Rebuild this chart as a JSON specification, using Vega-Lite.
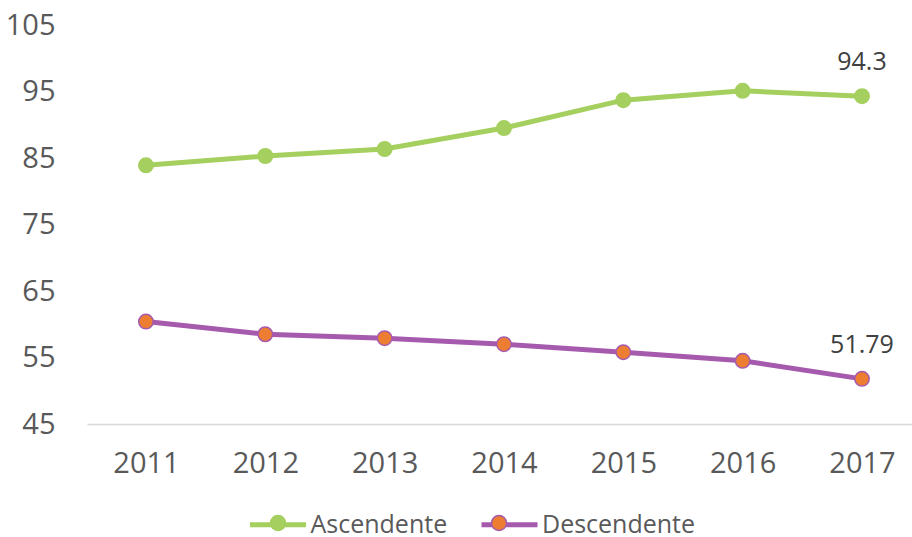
{
  "$schema": "https://vega.github.io/schema/vega-lite/v6.json",
  "width": 825,
  "height": 399,
  "autosize": {"type": "none"},
  "padding": {"left": 87, "top": 25, "right": 0, "bottom": 113},
  "background": "white",
  "config": {
    "view": {"stroke": null},
    "font": "Open Sans"
  },
  "data": {
    "values": [
      {"year": 2011, "series": "Ascendente", "value": 83.9},
      {"year": 2012, "series": "Ascendente", "value": 85.3},
      {"year": 2013, "series": "Ascendente", "value": 86.35},
      {"year": 2014, "series": "Ascendente", "value": 89.5},
      {"year": 2015, "series": "Ascendente", "value": 93.7},
      {"year": 2016, "series": "Ascendente", "value": 95.1},
      {"year": 2017, "series": "Ascendente", "value": 94.3},
      {"year": 2011, "series": "Descendente", "value": 60.4},
      {"year": 2012, "series": "Descendente", "value": 58.5},
      {"year": 2013, "series": "Descendente", "value": 57.9},
      {"year": 2014, "series": "Descendente", "value": 57.0},
      {"year": 2015, "series": "Descendente", "value": 55.8},
      {"year": 2016, "series": "Descendente", "value": 54.5},
      {"year": 2017, "series": "Descendente", "value": 51.79}
    ]
  },
  "encoding": {
    "x": {
      "field": "year",
      "type": "quantitative",
      "scale": {"domain": [2010.506, 2017.419], "nice": false, "zero": false},
      "axis": {
        "title": null,
        "values": [2011, 2012, 2013, 2014, 2015, 2016, 2017],
        "format": "d",
        "grid": false,
        "ticks": false,
        "domain": true,
        "domainColor": "#d9d9d9",
        "domainWidth": 1.5,
        "labelFont": "Open Sans",
        "labelFontSize": 29,
        "labelColor": "#595959",
        "labelPadding": 25,
        "labelFlush": false
      }
    },
    "y": {
      "field": "value",
      "type": "quantitative",
      "scale": {"domain": [45, 105], "nice": false, "zero": false},
      "axis": {
        "title": null,
        "values": [45, 55, 65, 75, 85, 95, 105],
        "grid": false,
        "ticks": false,
        "domain": false,
        "labelFont": "Open Sans",
        "labelFontSize": 29,
        "labelColor": "#595959",
        "labelPadding": 32
      }
    }
  },
  "layer": [
    {
      "mark": {"type": "line", "strokeWidth": 5},
      "encoding": {
        "color": {
          "field": "series",
          "type": "nominal",
          "scale": {"range": ["#A5CF5E", "#A65AAE"]},
          "legend": {
            "title": null,
            "orient": "none",
            "direction": "horizontal",
            "legendX": 160.5,
            "legendY": 469,
            "symbolType": "stroke",
            "symbolSize": 3136,
            "symbolStrokeWidth": 5,
            "labelFont": "Open Sans",
            "labelFontSize": 25,
            "labelColor": "#595959",
            "labelOffset": 2,
            "labelLimit": 300,
            "columnPadding": 23.5,
            "padding": 0
          }
        }
      }
    },
    {
      "mark": {"type": "point", "filled": true, "size": 210, "strokeWidth": 1.5, "opacity": 1},
      "encoding": {
        "fill": {
          "field": "series",
          "type": "nominal",
          "scale": {"domain": ["Ascendente", "Descendente"], "range": ["#A5CF5E", "#ED7D31"]},
          "legend": {
            "title": null,
            "orient": "none",
            "direction": "horizontal",
            "legendX": 162,
            "legendY": 469,
            "symbolType": "M0.268,0A0.268,0.268,0,1,1,-0.268,0A0.268,0.268,0,1,1,0.268,0Z",
            "symbolSize": 3136,
            "symbolStrokeWidth": 1.5,
            "labelExpr": "''",
            "labelFontSize": 25,
            "labelOffset": 0,
            "columnPadding": 163,
            "padding": 0
          }
        },
        "stroke": {
          "field": "series",
          "type": "nominal",
          "scale": {"domain": ["Ascendente", "Descendente"], "range": ["#A5CF5E", "#A65AAE"]},
          "legend": {
            "title": null,
            "orient": "none",
            "direction": "horizontal",
            "legendX": 162,
            "legendY": 469,
            "symbolType": "M0.268,0A0.268,0.268,0,1,1,-0.268,0A0.268,0.268,0,1,1,0.268,0Z",
            "symbolSize": 3136,
            "symbolStrokeWidth": 1.5,
            "labelExpr": "''",
            "labelFontSize": 25,
            "labelOffset": 0,
            "columnPadding": 163,
            "padding": 0
          }
        }
      }
    },
    {
      "transform": [{"filter": "datum.year == 2017"}],
      "mark": {"type": "text", "dy": -34, "fontSize": 25, "font": "Open Sans", "color": "#404040"},
      "encoding": {
        "text": {"field": "value", "type": "quantitative"}
      }
    }
  ]
}
